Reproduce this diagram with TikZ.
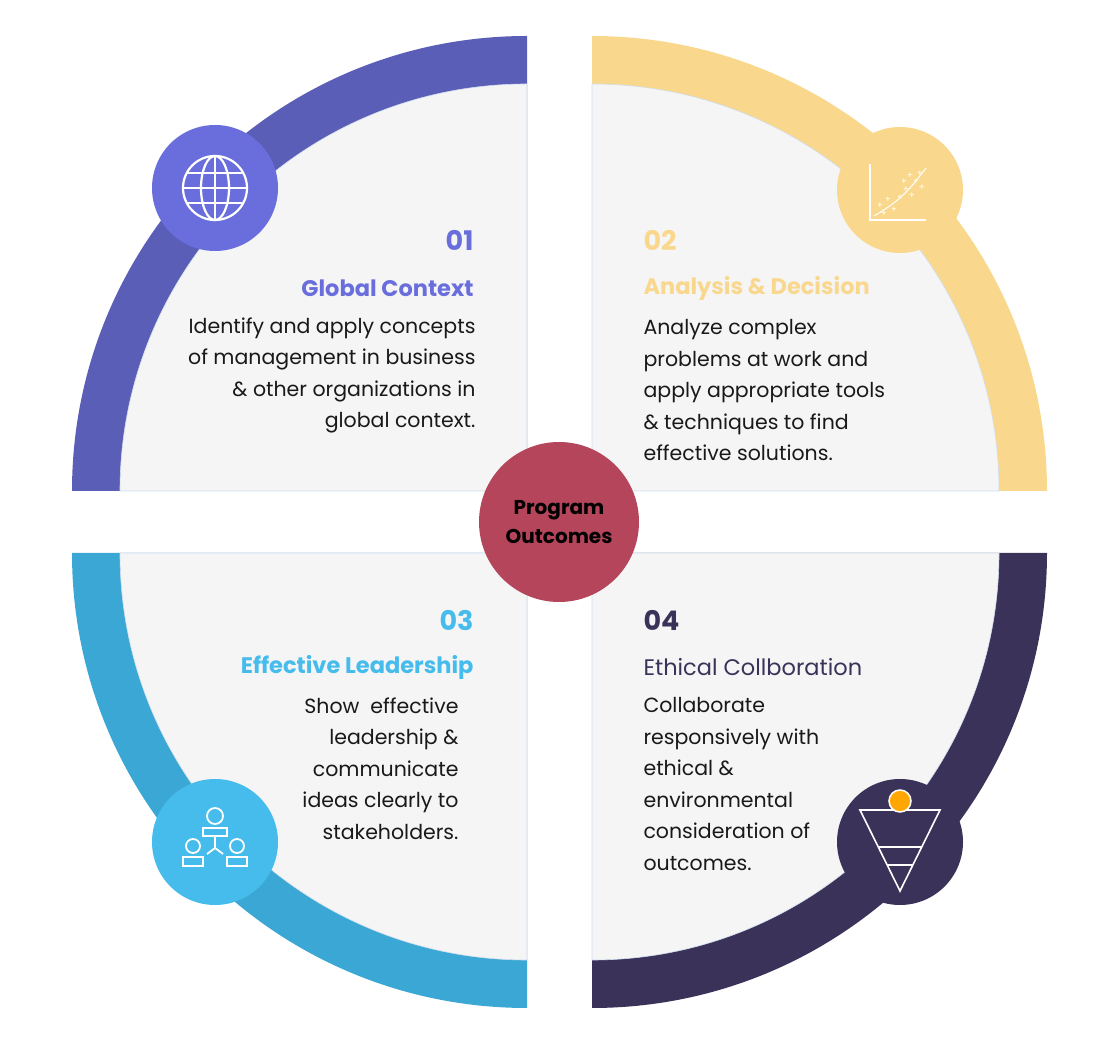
\documentclass[tikz,border=0pt]{standalone}
\usepackage{fontspec}
\setmainfont{Poppins}
\begin{document}
\begin{tikzpicture}[x=1pt,y=1pt,
 num/.style={font=\fontsize{27}{30}\selectfont\bfseries},
 ttl/.style={font=\fontsize{22.5}{26}\selectfont\bfseries},
 body/.style={font=\fontsize{20.5}{31.5}\selectfont, color=black!90},
 ico/.style={white, line width=2.2pt}]
\definecolor{cA}{HTML}{5B5EB7}\definecolor{iA}{HTML}{6A6EDC}
\definecolor{cB}{HTML}{F9D88E}
\definecolor{cC}{HTML}{3AA7D4}\definecolor{iC}{HTML}{45BCEB}
\definecolor{cD}{HTML}{3A3259}
\definecolor{gr}{HTML}{F5F5F6}\definecolor{ed}{HTML}{CFDDEE}
\definecolor{red}{HTML}{B5455B}
\useasboundingbox (0,0) rectangle (1108,1050);
% quadrants
\fill[cA] (527,559) -- (72,559) arc (180:90:455) -- cycle;
\fill[gr,draw=ed,line width=0.6pt] (527,559) -- (120,559) arc (180:90:407) -- cycle;
\fill[cB] (592,559) -- (1047,559) arc (0:90:455) -- cycle;
\fill[gr,draw=ed,line width=0.6pt] (592,559) -- (999,559) arc (0:90:407) -- cycle;
\fill[cC] (527,497) -- (72,497) arc (180:270:455) -- cycle;
\fill[gr,draw=ed,line width=0.6pt] (527,497) -- (120,497) arc (180:270:407) -- cycle;
\fill[cD] (592,497) -- (1047,497) arc (0:-90:455) -- cycle;
\fill[gr,draw=ed,line width=0.6pt] (592,497) -- (999,497) arc (0:-90:407) -- cycle;
% icon circles
\node[circle,fill=iA,minimum size=126pt] (iA) at (215,862) {};
\node[circle,fill=cB,minimum size=126pt] (iB) at (900,860) {};
\node[circle,fill=iC,minimum size=126pt] (iC) at (215,208) {};
\node[circle,fill=cD,minimum size=126pt] (iD) at (900,208) {};
% globe
\begin{scope}[shift={(215,862)}]
\draw[ico] (0,0) circle (32);
\draw[ico] (0,0) ellipse (14 and 32);
\draw[ico] (0,-32)--(0,32) (-32,0)--(32,0) (-28,15)--(28,15) (-28,-15)--(28,-15);
\end{scope}
% chart
\begin{scope}[shift={(898,858)}]
\draw[white,line width=1.5pt] (-28,28)--(-28,-28)--(28,-28);
\foreach \p in {(-18,-14),(-10,-8),(-4,-18),(2,-6),(8,2),(14,-4),(18,10),(22,18),(-14,-22),(6,10),(24,4),(12,16)}
  \node[white,font=\fontsize{9}{9}\selectfont] at \p {+};
\draw[white,line width=1pt] (-24,-24) .. controls (0,-10) and (10,0) .. (28,24);
\end{scope}
% people
\begin{scope}[shift={(215,208)}]
\draw[white,line width=1.8pt] (0,26) circle (8) (-12,6) rectangle (12,14);
\draw[white,line width=1.8pt] (-22,-4) circle (7) (22,-4) circle (7)
 (-32,-24) rectangle (-12,-15) (12,-24) rectangle (32,-15)
 (0,6)--(0,-6) (0,-6)--(-8,-12) (0,-6)--(8,-12);
\end{scope}
% funnel
\begin{scope}[shift={(900,205)}]
\draw[white,line width=1.6pt] (-40,35)--(40,35)--(0,-46)--cycle;
\draw[white,line width=1.6pt] (-22,-2)--(22,-2) (-13,-20)--(13,-20);
\node[circle,fill=orange!70!yellow,draw=white,line width=1.5pt,minimum size=22pt] at (0,44) {};
\end{scope}
% center
\node[circle,fill=red,minimum size=160pt,align=center,font=\fontsize{20}{29}\selectfont\bfseries,text=black] (c) at (559,528) {Program\\Outcomes};
% texts
\node[num,text=iA,anchor=east] at (477,810) {01};
\node[ttl,text=iA,anchor=east] at (477,762) {Global Context};
\node[body,anchor=north east,align=right] at (479,736) {Identify and apply concepts\\of management in business\\\& other organizations in\\global context.};
\node[num,text=cB,anchor=west] at (640,810) {02};
\node[ttl,text=cB,anchor=west] at (640,762) {Analysis \& Decision};
\node[body,anchor=north west,align=left] at (640,734) {Analyze complex\\problems at work and\\apply appropriate tools\\\& techniques to find\\effective solutions.};
\node[num,text=iC,anchor=east] at (477,430) {03};
\node[ttl,text=iC,anchor=east] at (477,383) {Effective Leadership};
\node[body,anchor=north east,align=right] at (462,356) {Show\ \ effective\\leadership \&\\communicate\\ideas clearly to\\stakeholders.};
\node[num,text=cD,anchor=west] at (640,430) {04};
\node[ttl,text=cD,font=\fontsize{22.5}{26}\selectfont,anchor=west] at (640,383) {Ethical Collboration};
\node[body,anchor=north west,align=left] at (640,356) {Collaborate\\responsively with\\ethical \&\\environmental\\consideration of\\outcomes.};
\end{tikzpicture}
\end{document}
